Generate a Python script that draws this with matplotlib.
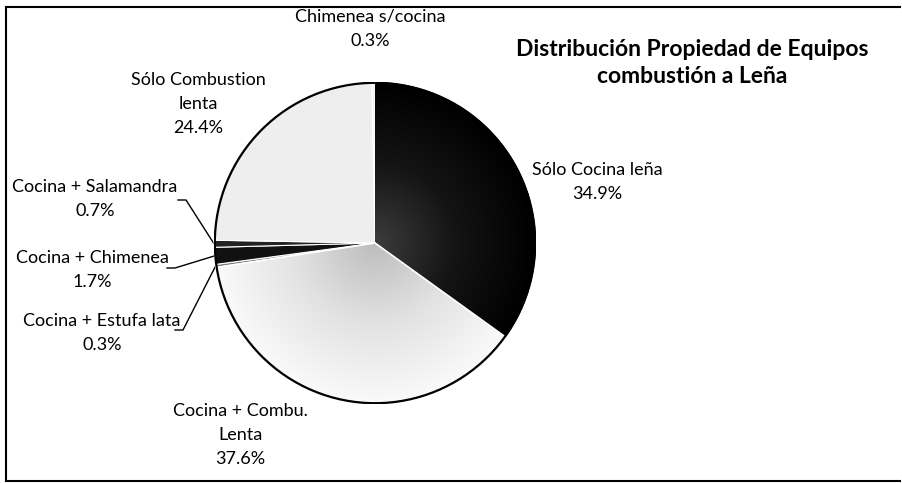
import matplotlib.pyplot as plt
from matplotlib.colors import LinearSegmentedColormap
import numpy as np

plt.rcParams['font.family'] = ['Lato', 'DejaVu Sans']

# data, clockwise from 12 o'clock
categories = ["Sólo Cocina leña", "Cocina + Combu.\nLenta", "Cocina + Estufa lata",
              "Cocina + Chimenea", "Cocina + Salamandra", "Sólo Combustion\nlenta",
              "Chimenea s/cocina"]
shares = [34.9, 37.6, 0.3, 1.7, 0.7, 24.4, 0.3]
title = "Distribución Propiedad de Equipos\ncombustión a Leña"

W, H = 902, 483
fig = plt.figure(figsize=(W / 100, H / 100), dpi=100)
ax = fig.add_axes([0, 0, 1, 1])
ax.set_xlim(0, W)
ax.set_ylim(H, 0)
ax.axis("off")

cx, cy, R = 375, 243, 161

# pie drawn in its own axes so angles stay normal
pax = fig.add_axes([(cx - R) / W, 1 - (cy + R) / H, 2 * R / W, 2 * R / H])

fills = ["#1c1c1c", "#dcdcdc", "#7a7a7a", "#111111", "#222222", "#eeeeee", "#f4f4f4"]
wedges, _ = pax.pie(shares, startangle=90, counterclock=False, colors=fills,
                    radius=1, center=(0, 0),
                    wedgeprops=dict(edgecolor="white", linewidth=0.8))
pax.set_xlim(-1, 1)
pax.set_ylim(-1, 1)
pax.set_aspect("auto")
pax.axis("off")

# radial shading on the two big slices, like the scanned Excel gradient
yy, xx = np.mgrid[-1:1:400j, -1:1:400j]
rr = np.hypot(xx, yy)
grads = {0: ["#3c3c3c", "#141414", "#000000"], 1: ["#bdbdbd", "#e2e2e2", "#fafafa"]}
for i, cols in grads.items():
    cmap = LinearSegmentedColormap.from_list("g%d" % i, cols)
    im = pax.imshow(rr, extent=(-1, 1, -1, 1), origin="lower", cmap=cmap,
                    vmin=0, vmax=1, zorder=1.5, interpolation="bilinear",
                    aspect="auto")
    im.set_clip_path(wedges[i])
for w in wedges:
    w.set_zorder(1)
edge = plt.Circle((0, 0), 0.995, fill=False, edgecolor="black", linewidth=1.6, zorder=3)
pax.add_patch(edge)
for i in (0, 1):
    th = np.deg2rad(wedges[i].theta1)
    pax.plot([0, np.cos(th)], [0, np.sin(th)], color="white", lw=1.2, zorder=2)

pcts = ["%.1f%%" % s for s in shares]

lab_style = dict(ha="center", va="center", fontsize=13, color="black",
                 linespacing=1.65)
# label anchor positions (pixels)
lab_pos = [(597, 182), (240, 435), (102, 333), (92, 270), (95, 199), (198, 104), (370, 29)]
for i, (x, y) in enumerate(lab_pos):
    ax.text(x, y, categories[i] + "\n" + pcts[i], **lab_style)

# leader lines for the thin slices on the left
leader = {2: (175, 330), 3: (167, 268), 4: (178, 200)}
for i, (lx, ly) in leader.items():
    mid = np.deg2rad((wedges[i].theta1 + wedges[i].theta2) / 2)
    ex = cx + R * np.cos(mid)
    ey = cy - R * np.sin(mid)
    ax.plot([lx, lx + 8, ex], [ly, ly, ey], color="black", lw=1)

ax.text(692, 63, title, ha="center", va="center", fontsize=16.5,
        fontweight="bold", linespacing=1.3)

# frame (top, left, bottom only as in the scan)
ax.plot([6, 900], [7, 7], color="black", lw=1.5)
ax.plot([6, 6], [7, 481], color="black", lw=1.5)
ax.plot([6, 900], [481, 481], color="black", lw=1.5)

fig.savefig("out.png", dpi=100)
